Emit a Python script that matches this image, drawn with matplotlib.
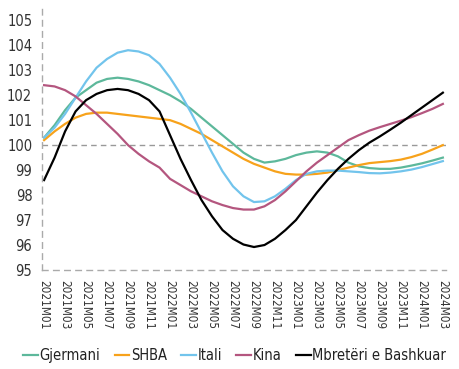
import numpy as np
import matplotlib.pyplot as plt

plt.rcParams["font.family"] = ["DejaVu Sans"]
plt.rcParams["font.stretch"] = "condensed"

# %% Data
months = [f"{y}M{m:02d}" for y in (2021, 2022, 2023, 2024) for m in range(1, 13)][:39]
tick_labels = months[::2]

gjermani = [100.3, 100.8, 101.4, 101.9, 102.2, 102.5, 102.65, 102.7, 102.65, 102.55,
            102.4, 102.2, 102.0, 101.75, 101.45, 101.1, 100.75, 100.4, 100.05, 99.7,
            99.45, 99.3, 99.35, 99.45, 99.6, 99.7, 99.75, 99.7, 99.55, 99.3,
            99.15, 99.08, 99.05, 99.05, 99.1, 99.18, 99.27, 99.38, 99.5]
shba = [100.2, 100.55, 100.85, 101.1, 101.25, 101.3, 101.3, 101.25, 101.2, 101.15,
        101.1, 101.05, 101.0, 100.85, 100.65, 100.45, 100.2, 99.95, 99.7, 99.45,
        99.25, 99.1, 98.95, 98.85, 98.82, 98.82, 98.85, 98.9, 99.0, 99.1,
        99.2, 99.28, 99.32, 99.36, 99.42, 99.52, 99.65, 99.82, 100.0]
itali = [100.3, 100.7, 101.25, 101.9, 102.55, 103.1, 103.45, 103.7, 103.8, 103.75,
         103.6, 103.25, 102.7, 102.05, 101.3, 100.5, 99.7, 98.95, 98.35, 97.95,
         97.72, 97.75, 97.95, 98.25, 98.6, 98.85, 98.95, 98.98, 98.98, 98.95,
         98.92, 98.88, 98.87, 98.9, 98.95, 99.02, 99.12, 99.24, 99.36]
kina = [102.4, 102.35, 102.2, 101.95, 101.6, 101.25, 100.85, 100.45, 100.0, 99.65,
        99.35, 99.1, 98.65, 98.4, 98.15, 97.95, 97.75, 97.6, 97.48, 97.42,
        97.42, 97.55, 97.8, 98.15, 98.55, 98.95, 99.3, 99.6, 99.9, 100.2,
        100.4, 100.58, 100.72, 100.85, 100.98, 101.12, 101.28, 101.45, 101.65]
mbreteri = [98.6, 99.5, 100.55, 101.35, 101.8, 102.05, 102.2, 102.25, 102.2, 102.05,
            101.8, 101.35, 100.4, 99.45, 98.6, 97.8, 97.15, 96.6, 96.25, 96.02,
            95.92, 96.0, 96.25, 96.6, 97.0, 97.55, 98.1, 98.6, 99.05, 99.45,
            99.8, 100.1, 100.35, 100.62, 100.9, 101.2, 101.5, 101.8, 102.1]

series = [("Gjermani", gjermani, "#5DB89B"),
          ("SHBA", shba, "#F7A21B"),
          ("Itali", itali, "#72C4EC"),
          ("Kina", kina, "#B4567F"),
          ("Mbretëri e Bashkuar", mbreteri, "#000000")]

# %% Plot
fig = plt.figure(figsize=(4.6, 3.69), dpi=100)
ax = fig.add_axes([0.0913, 0.2683, 0.8783, 0.7073])

x = np.arange(len(months))
for name, vals, col in series:
    ax.plot(x, vals, color=col, lw=1.6, label=name)

ax.axhline(100, color="#999999", lw=1, ls=(0, (4, 3)), zorder=0)

ax.set_xlim(-0.2, 38.3)
ax.set_ylim(95, 105.45)
ax.set_yticks(range(95, 106))
ax.set_xticks(x[::2])
ax.set_xticklabels(tick_labels, rotation=-90, fontsize=8.5, color="#333333")
ax.tick_params(axis="y", labelsize=10.5, colors="#333333", length=0, pad=7)
ax.tick_params(axis="x", length=0, pad=7)

for s in ["top", "right"]:
    ax.spines[s].set_visible(False)
for s in ["left", "bottom"]:
    ax.spines[s].set_color("#AAAAAA")
    ax.spines[s].set_linestyle((0, (4, 4)))
    ax.spines[s].set_linewidth(1)

fig.legend(loc="lower center", bbox_to_anchor=(0.51, -0.02), ncol=5, frameon=False,
           fontsize=10.5, handlelength=1.0, handletextpad=0.1, columnspacing=1.0,
           labelcolor="#222222")

plt.savefig("out.png", dpi=100)
